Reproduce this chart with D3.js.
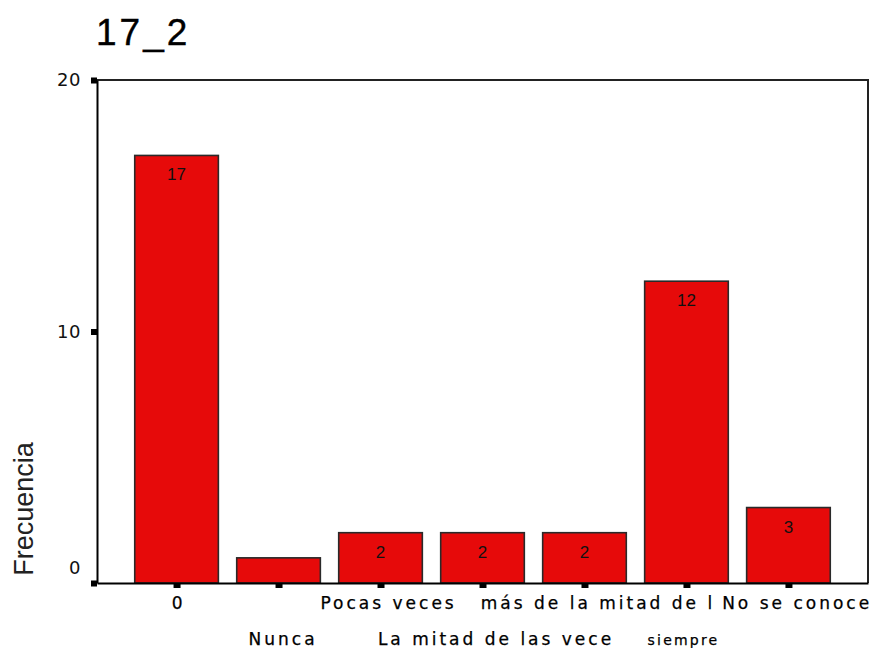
<!DOCTYPE html>
<html>
<head>
<meta charset="utf-8">
<script src="https://cdn.jsdelivr.net/npm/d3@7"></script>
<style>
  html, body { margin: 0; padding: 0; background: #fff; }
  svg { display: block; font-family: "Liberation Sans", Arial, sans-serif; }
</style>
</head>
<body>
<svg id="chart" width="874" height="648"></svg>
<script>
const title = "17_2";
const yTitle = "Frecuencia";
const categories = ["0", "Nunca", "Pocas veces", "La mitad de las vece", "más de la mitad de l", "siempre", "No se conoce"];
const values = [17, 1, 2, 2, 2, 12, 3];
const yTicks = [0, 10, 20];

(function () {
const svg = d3.select("#chart");
const pLeft = 97, pRight = 868, pTop = 80, pBottom = 583;
const labelFont = "DejaVu Sans, Verdana, sans-serif";

const x = d3.scaleBand().domain(categories).range([pLeft, pRight]).paddingInner(0.18).paddingOuter(0.37);
const y = d3.scaleLinear().domain([0, 20]).range([pBottom, pTop]);

// title
svg.append("text").attr("x", 96).attr("y", 45)
  .attr("font-size", 37).attr("letter-spacing", 3).attr("fill", "#000")
  .attr("stroke", "#000").attr("stroke-width", 0.4).text(title);

// y axis title
svg.append("text").attr("transform", `translate(33,509) rotate(-90)`)
  .attr("text-anchor", "middle").attr("font-size", 27).attr("fill", "#222").text(yTitle);

// frame (top and right)
svg.append("path").attr("d", `M${pLeft},${pTop}H${pRight}V${pBottom}`)
  .attr("fill", "none").attr("stroke", "#222").attr("stroke-width", 2);

// bars
svg.selectAll("rect.bar").data(values).join("rect").attr("class", "bar")
  .attr("x", (d, i) => x(categories[i]))
  .attr("y", d => y(d))
  .attr("width", x.bandwidth())
  .attr("height", d => y(0) - y(d))
  .attr("fill", "#e60a0a").attr("stroke", "#2a2a2a").attr("stroke-width", 1.6);

// bar value labels
svg.selectAll("text.val").data(values.map((v, i) => ({v, i})).filter(o => y(0) - y(o.v) > 30))
  .join("text").attr("class", "val")
  .attr("x", o => x(categories[o.i]) + x.bandwidth() / 2)
  .attr("y", o => y(o.v) + 25)
  .attr("text-anchor", "middle").attr("font-size", 17).attr("fill", "#111")
  .text(o => o.v);

// y axis
const yAxis = d3.axisLeft(y).tickValues(yTicks).tickSize(0).tickPadding(16);
const gy = svg.append("g").attr("transform", `translate(${pLeft},0)`).call(yAxis);
gy.select(".domain").attr("stroke", "#000").attr("stroke-width", 2);
gy.selectAll(".tick text").attr("font-size", 18).attr("letter-spacing", 0.5)
  .attr("font-family", labelFont).attr("fill", "#111")
  .attr("dy", d => d === 0 ? "-0.55em" : "0.32em");
gy.selectAll(".tick").append("rect").attr("x", -6).attr("y", -3).attr("width", 6).attr("height", 6).attr("fill", "#000");

// x axis
const xAxis = d3.axisBottom(x).tickSize(0).tickFormat("");
const gx = svg.append("g").attr("transform", `translate(0,${pBottom})`).call(xAxis);
gx.select(".domain").attr("stroke", "#000").attr("stroke-width", 2);
gx.selectAll(".tick").append("rect").attr("x", -3).attr("y", 0).attr("width", 7).attr("height", 5).attr("fill", "#000");

// x labels (staggered)
const small = d => d === "siempre";
svg.selectAll("text.xl").data(categories).join("text").attr("class", "xl")
  .attr("x", d => x(d) + x.bandwidth() / 2 + (small(d) ? -3 : 1.5 + d.length * 0.6))
  .attr("y", (d, i) => i % 2 === 0 ? 609 : 645)
  .attr("text-anchor", "middle")
  .attr("font-family", labelFont)
  .attr("font-size", d => small(d) ? 14 : 17)
  .attr("letter-spacing", d => small(d) ? 2.2 : 3)
  .attr("fill", "#000")
  .attr("stroke", "#000").attr("stroke-width", 0.25)
  .text(d => d);
})();
</script>
</body>
</html>
